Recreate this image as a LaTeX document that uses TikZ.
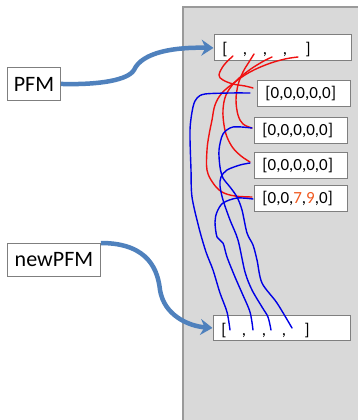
\documentclass[tikz,border=0pt]{standalone}
\usepackage{fontspec}
\setmainfont{Carlito}
\usetikzlibrary{arrows.meta}
\definecolor{panelgray}{HTML}{D9D9D9}
\definecolor{paneledge}{HTML}{9A9A9A}
\definecolor{boxedge}{HTML}{7F7F7F}
\definecolor{pptblue}{HTML}{4F81BD}
\definecolor{wred}{HTML}{F01010}
\definecolor{wblue}{HTML}{0000E6}
\definecolor{numorange}{HTML}{F0581E}
\tikzset{
  x=1pt, y=-1pt,
  panel/.style={fill=panelgray, draw=paneledge, line width=1.3pt},
  wbox/.style={draw=boxedge, fill=white, line width=0.9pt, inner sep=0pt},
  numbox/.style={draw=boxedge, fill=white, line width=0.9pt, anchor=north west,
    inner xsep=8pt, inner ysep=0pt, minimum height=26pt, text width=77pt, align=left,
    font=\fontsize{17}{20}\selectfont},
  lbl/.style={draw=boxedge, fill=white, line width=0.9pt, anchor=north west, inner sep=0pt,
    font=\fontsize{22}{26}\selectfont},
  glyph/.style={anchor=base, inner sep=0pt, font=\fontsize{17}{20}\selectfont},
  bigarrow/.style={draw=pptblue, line width=4.5pt,
    -{Stealth[length=12pt,width=16pt,inset=4pt]}},
  redwire/.style={draw=wred, line width=1.4pt, line cap=round, line join=round},
  bluewire/.style={draw=wblue, line width=1.4pt, line cap=round, line join=round},
}
\begin{document}
\begin{tikzpicture}
\useasboundingbox (0,0) rectangle (358,420);
\clip (0,0) rectangle (358,420);
\fill[white] (0,0) rectangle (358,420);
% panel
\path[panel] (183,7) rectangle (372,440);

% top and bottom slot boxes
\node[wbox, anchor=north west, minimum width=137pt, minimum height=26pt] (top) at (213.5,34.5) {};
\node[wbox, anchor=north west, minimum width=137pt, minimum height=25pt] (bot) at (212.5,315) {};
\foreach \xx/\cc [count=\i] in {225/[,245/{,},265/{,},285/{,},308/]} {
  \node[glyph] (tg\i) at (\xx,55) {\cc};
  \node[glyph] (bg\i) at (\xx-1,335) {\cc};
}

% value boxes
\node[numbox] (b1) at (257,80) {[0,0,0,0,0]};
\node[numbox] (b2) at (254,117) {[0,0,0,0,0]};
\node[numbox] (b3) at (254,152) {[0,0,0,0,0]};
\node[numbox] (b4) at (254,185) {[0,0,\textcolor{numorange}{7},\textcolor{numorange}{9},0]};

% labels
\node[lbl, minimum width=53pt, minimum height=33pt] (pfm) at (7,67) {PFM};
\node[lbl, minimum width=93pt, minimum height=33pt] (npfm) at (7,243) {newPFM};

% thick arrows
\draw[bigarrow] (pfm.east) .. controls (100,85) and (128,80) .. (134,70)
  .. controls (142,52) and (175,47) .. (top.west);
\draw[bigarrow] (npfm.north east) .. controls (150,243) and (158,272) .. (160,290)
  .. controls (164,315) and (188,326) .. (bot.west);

% red wires: top slots -> value boxes
\draw[redwire] plot[smooth, tension=0.6] coordinates {(233,56) (224,65) (219,75) (223,80) (233,84) (245,86) (253,88)};
\draw[redwire] plot[smooth, tension=0.6] coordinates {(254,54) (249,62) (243,72) (238,85) (236,100) (238,115) (243,124) (252,128)};
\draw[redwire] plot[smooth, tension=0.6] coordinates {(272,57) (262,62) (248,71) (235,82) (226,95) (223,110) (224,125) (227,137) (233,148) (241,156) (250,162)};
\draw[redwire] plot[smooth, tension=0.6] coordinates {(298,57) (285,59) (268,64) (250,72) (235,82) (222,93) (215,105) (212,120) (209,135) (207,150) (207,170) (213,183) (222,192) (235,196) (252,197)};

% blue wires: value boxes -> bottom slots
\draw[bluewire] plot[smooth, tension=0.5] coordinates {(250,93) (230,93) (205,94) (197,98) (193,107) (190,130) (191,170) (192,197) (199,228) (206,252) (213,270) (220,293) (227,312) (230,330)};
\draw[bluewire] plot[smooth, tension=0.5] coordinates {(252,128) (233,127) (223,134) (219,150) (220,167) (223,178) (230,187) (237,197) (242,210) (247,233) (253,245) (257,260) (262,283) (277,303) (292,328)};
\draw[bluewire] plot[smooth, tension=0.5] coordinates {(250,163) (240,165) (227,170) (221,177) (220,186) (223,200) (230,220) (238,240) (245,272) (252,290) (262,307) (268,317) (271,330)};
\draw[bluewire] plot[smooth, tension=0.5] coordinates {(253,199) (237,198) (223,203) (217,212) (215,222) (217,237) (223,243) (227,257) (235,277) (242,293) (250,312) (253,330)};
\end{tikzpicture}
\end{document}
